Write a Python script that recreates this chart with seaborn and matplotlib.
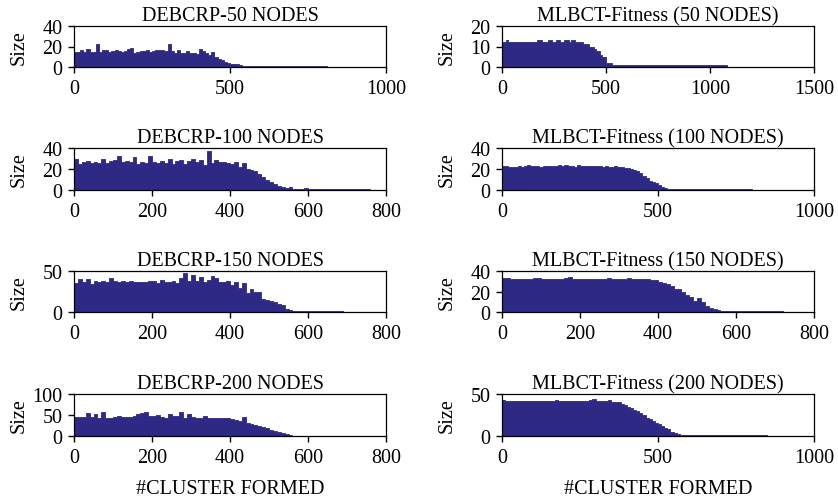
import numpy as np
import pandas as pd
import matplotlib
matplotlib.use("Agg")
import matplotlib.pyplot as plt
import seaborn as sns

# ---- data: cluster size per group of 10 clusters ----
d50 = [15,15,17,15,18,15,15,22,15,17, 17,15,16,17,16,15,16,18,19,14,
       15,16,16,17,15,16,17,17,17,16, 22,16,14,17,14,14,16,14,14,13,
       18,16,14,12,15,10,8,7,5,4, 3,3,3,2,1,1,1,1,1,1,
       1,1,1,1,1,1,1,1,1,1, 1,1,1,1,1,1,1,1,1,1, 1]
m50 = [12,12,13,12,12,12,12,12,12,12, 12,12,12,12,12,12,12,13,13,12,
       12,12,13,13,12,12,13,13,12,12, 13,13,12,13,13,12,12,12,12,11,
       11,11,10,10,9,8,8,6,5,5, 2,2,2,1,1,1,1,1,1,1,
       1,1,1,1,1,1,1,1,1,1, 1,1,1,1,1,1,1,1,1,1,
       1,1,1,1,1,1,1,1,1,1, 1,1,1,1,1,1,1,1,1,1,
       1,1,1,1,1,1,1,1]
d100 = [30,25,27,28,26,27,26,30,26,28, 29,32,27,28,27,31,25,27,26,32,
        27,26,28,26,30,25,28,29,25,28, 30,27,29,24,37,26,29,27,27,26,
        25,27,22,26,20,19,18,15,12,10, 8,6,4,3,2,3,1,1,1,2,
        1,1,1,1,1,1,1,1,1,1, 1,1,1,1,1,1]
m100 = [23,23,22,22,22,23,22,23,24,23, 23,23,22,23,23,23,23,23,24,23,
        24,23,23,22,24,23,23,23,23,23, 23,23,22,23,22,22,23,22,22,21,
        21,20,19,18,16,13,11,9,8,7, 5,3,2,1,1,1,1,1,1,1,
        1,1,1,1,1,1,1,1,1,1, 1,1,1,1,1,1,1,1,1,1]
d150 = [35,40,37,40,34,38,37,38,37,41, 38,37,38,36,38,36,36,36,37,38,
        38,35,39,36,37,38,35,41,48,38, 45,38,43,37,39,44,41,37,36,38,
        33,36,29,35,23,28,24,25,16,15, 13,12,10,8,4,2,1,0.8,0.8,0.8,
        0.8,0.8,0.8,0.8,0.8,0.8,0.8,0.8,0.8]
m150 = [33,33,32,32,32,32,32,32,33,33, 32,32,32,32,32,32,33,34,32,32,
        32,32,32,32,32,32,32,33,32,32, 32,32,33,32,32,32,32,32,31,31,
        29,28,27,25,22,22,20,17,15,11, 14,10,6,4,3,2,1,1,1,1,
        1,1,1,1,1,1,1,1,1,1, 1,1]
d200 = [45,45,45,55,45,52,42,58,42,44, 46,47,46,46,45,47,52,54,56,48,
        47,49,45,44,53,48,47,56,44,53, 45,43,44,47,42,43,44,43,44,42,
        40,38,35,45,30,29,27,25,22,18, 15,13,10,7,4,2,1,1,1,1,
        1,1,1,1,1,1,1,1,1,1]
m200 = [43,42,42,42,42,42,42,42,42,42, 42,42,42,42,42,42,42,43,42,42,
        42,42,42,42,42,42,42,42,43,44, 42,42,42,42,43,41,40,40,38,37,
        35,33,31,30,27,25,22,20,18,16, 14,12,10,8,5,3,2,0.8,0.8,0.8,
        0.8,0.8,0.8,0.8,0.8,0.8,0.8,0.8,0.8,0.8, 0.8,0.8,0.8,0.8,0.8,0.8,0.8,0.8,0.8,0.8,
        0.8,0.8,0.8,0.8,0.8]

titles = ["DEBCRP-50 NODES", "MLBCT-Fitness (50 NODES)",
          "DEBCRP-100 NODES", "MLBCT-Fitness (100 NODES)",
          "DEBCRP-150 NODES", "MLBCT-Fitness (150 NODES)",
          "DEBCRP-200 NODES", "MLBCT-Fitness (200 NODES)"]
series = [d50, m50, d100, m100, d150, m150, d200, m200]
xmax = [1000, 1500, 800, 1000, 800, 800, 800, 1000]
xticks = [[0, 500, 1000], [0, 500, 1000, 1500], [0, 200, 400, 600, 800],
          [0, 500, 1000], [0, 200, 400, 600, 800], [0, 200, 400, 600, 800],
          [0, 200, 400, 600, 800], [0, 500, 1000]]
ymax = [40, 20, 40, 40, 50, 40, 100, 50]
yticks = [[0, 20, 40], [0, 10, 20], [0, 20, 40], [0, 20, 40],
          [0, 50], [0, 20, 40], [0, 50, 100], [0, 50]]
xlabel = "#CLUSTER FORMED"
ylabel = "Size"
BIN = 10
color = "#2E2985"

sns.set_style("ticks")
plt.rcParams["font.family"] = ["Liberation Serif", "DejaVu Serif"]
plt.rcParams["text.color"] = "black"
plt.rcParams["axes.labelcolor"] = "black"
plt.rcParams["xtick.color"] = "black"
plt.rcParams["ytick.color"] = "black"

W, H = 838, 502
fig = plt.figure(figsize=(W / 100, H / 100), dpi=100)

lefts = [74, 502]
rows = [(27, 68), (149, 191), (272, 313), (395, 437)]
axw = 312

for i, (vals, title) in enumerate(zip(series, titles)):
    r, c = divmod(i, 2)
    top, bot = rows[r]
    ax = fig.add_axes([lefts[c] / W, 1 - bot / H, axw / W, (bot - top) / H])
    n = len(vals)
    df = pd.DataFrame({"cluster": np.arange(n) * BIN + BIN / 2,
                       "size": np.asarray(vals, dtype=float)})
    sns.histplot(data=df, x="cluster", weights="size", binwidth=BIN,
                 binrange=(0, n * BIN), element="step", fill=True,
                 color=color, alpha=1, linewidth=0.6, ax=ax)
    ax.set_xlim(0, xmax[i])
    ax.set_ylim(0, ymax[i])
    ax.set_xticks(xticks[i])
    ax.set_yticks(yticks[i])
    ax.set_title(title, fontsize=14.5, pad=4, color="black")
    ax.set_ylabel(ylabel, fontsize=14.5, color="black")
    ax.yaxis.set_label_coords(-0.145, 0.5)
    if r == 3:
        ax.set_xlabel(xlabel, fontsize=14.5, labelpad=9, color="black")
    else:
        ax.set_xlabel("")
    ax.tick_params(axis="both", labelsize=14.5, direction="out", length=4.3,
                   width=1.0, pad=4, color="black", labelcolor="black")
    for s in ax.spines.values():
        s.set_visible(True)
        s.set_color("black")
        s.set_linewidth(0.9)

fig.savefig("out.png", dpi=100)
